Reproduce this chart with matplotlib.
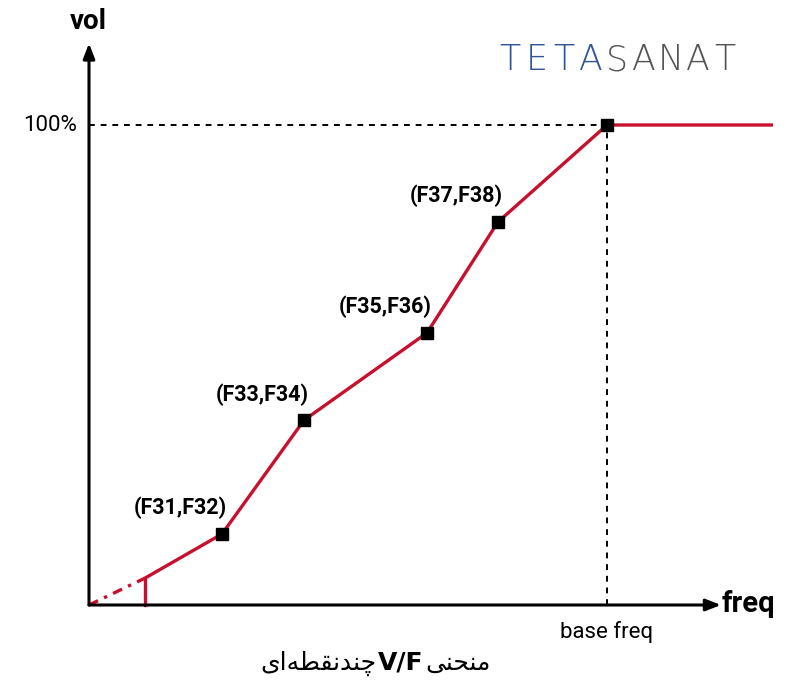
import matplotlib
matplotlib.use("Agg")
import matplotlib.pyplot as plt

# data (x in arbitrary freq units, y in % voltage)
labels = ["(F31,F32)", "(F33,F34)", "(F35,F36)", "(F37,F38)"]
pt_x = [133, 215, 338, 409]
pt_y = [14.8, 38.5, 56.7, 79.8]
start_x, start_y = 56, 5.6
base_x, base_y = 518, 100
end_x = 684

W, H = 789, 698
fig = plt.figure(figsize=(W/100, H/100), dpi=100)
ax = fig.add_axes([0, 0, 1, 1])
ax.set_xlim(-89, W-89)
ax.set_ylim((605-H)/4.8, 605/4.8)
ax.axis("off")
red = "#c8102e"

# axes arrows
ax.annotate("", xy=(632, 0), xytext=(0, 0),
            arrowprops=dict(arrowstyle="-|>,head_length=0.9,head_width=0.35", color="black", lw=2.2, shrinkA=0, shrinkB=0))
ax.annotate("", xy=(0, 117), xytext=(0, 0),
            arrowprops=dict(arrowstyle="-|>,head_length=0.9,head_width=0.35", color="black", lw=2.2, shrinkA=0, shrinkB=0))
ax.text(-1, 121.5, "vol", fontsize=20, fontweight="bold", ha="center", va="center", family="Roboto")
ax.text(633, 0.2, "freq", fontsize=21, fontweight="bold", ha="left", va="center", family="Roboto")
ax.text(-12, base_y, "100%", fontsize=16, ha="right", va="center", family="Roboto")
ax.text(base_x, -5.7, "base freq", fontsize=16, ha="center", va="center", family="Roboto")

# dashed guides
ax.plot([0, base_x], [base_y, base_y], ls=(0, (3, 3)), color="black", lw=1.4)
ax.plot([base_x, base_x], [0, base_y], ls=(0, (3, 3)), color="black", lw=1.4)

# curve
ax.plot([0, start_x], [0, start_y], ls=(0, (3, 2, 1, 2)), color=red, lw=2.4)
ax.plot([start_x, start_x], [0, start_y], color=red, lw=2.4)
xs = [start_x] + pt_x + [base_x, end_x]
ys = [start_y] + pt_y + [base_y, base_y]
ax.plot(xs, ys, color=red, lw=2.4, solid_capstyle="butt")
ax.plot(pt_x + [base_x], pt_y + [base_y], "s", color="black", ms=8)
for x, y, l in zip(pt_x, pt_y, labels):
    ax.text(x - 42, y + 5.4, l, fontsize=15.5, fontweight="bold", ha="center", va="center", family="Roboto")

# logo
logo = "TETASANAT"
for i, ch in enumerate(logo):
    ax.text(510 - 89 + i * 26.8, 113.5, ch, fontsize=25, color="#2f5597" if i < 4 else "#555555",
            ha="center", va="center", family="DejaVu Sans", fontweight="light")

# caption (pre-shaped Persian)
cy = (605-663)/4.8
ax.text(312 - 24, cy, "\uFBFC\uFE8D\uFEEA\uFEC4\uFED8\uFEE7\uFEAA\uFEE8\uFB7C", fontsize=18, ha="right", va="center", family="DejaVu Sans")
ax.text(312, cy, "V/F", fontsize=18, fontweight="bold", ha="center", va="center", family="DejaVu Sans")
ax.text(312 + 24, cy, "\uFBFD\uFEE8\uFEA4\uFEE8\uFEE3", fontsize=18, ha="left", va="center", family="DejaVu Sans")

fig.savefig("out.png", dpi=100, facecolor="white")
